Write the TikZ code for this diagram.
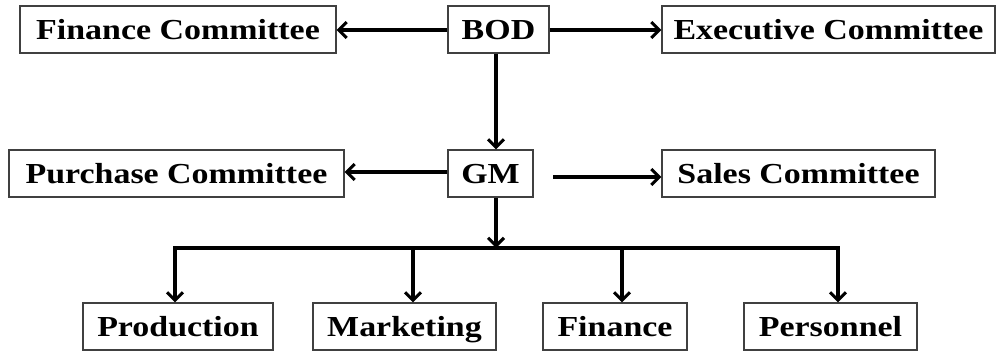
\documentclass[tikz,border=0pt]{standalone}
\usepackage{fontspec}
\newfontfamily\boxfont[FakeStretch=1.17]{Liberation Serif}
\usetikzlibrary{arrows.meta,calc}
\begin{document}
\begin{tikzpicture}[x=1pt,y=-1pt,
  unit/.style={draw=black!75,line width=1.1pt,minimum height=47pt,inner sep=0pt,
    text height=22pt,text depth=2.5pt,
    font=\boxfont\bfseries\fontsize{29}{31}\selectfont,text=black},
  link/.style={line width=3.1pt,-{Straight Barb[length=8pt,width=16pt]}},
  wire/.style={line width=3.1pt,line cap=butt}]
\useasboundingbox (0,0) rectangle (996,351);
% top row
\node[unit,minimum width=316pt] (fin) at (178,29.5) {Finance Committee};
\node[unit,minimum width=101pt] (bod) at (498.5,29.5) {BOD};
\node[unit,minimum width=333pt] (exe) at (828.5,29.5) {Executive Committee};
% middle row
\node[unit,minimum width=335pt] (pur) at (176.5,173.5) {Purchase Committee};
\node[unit,minimum width=85pt] (gm) at (490.5,173.5) {GM};
\node[unit,minimum width=273pt] (sal) at (798.5,173.5) {Sales Committee};
% departments
\node[unit,minimum width=190pt] (pro) at (178,326.5) {Production};
\node[unit,minimum width=183pt] (mar) at (404.5,326.5) {Marketing};
\node[unit,minimum width=144pt] (fnc) at (615,326.5) {Finance};
\node[unit,minimum width=173pt] (per) at (830.5,326.5) {Personnel};
% bus and trunk points
\coordinate (trunk) at (496,248);
\coordinate (b1) at (175,248);
\coordinate (b2) at (413,248);
\coordinate (b3) at (622,248);
\coordinate (b4) at (838,248);
\coordinate (gmout) at (553,177);
% connectors
\draw[link] (bod.west |- 0,30) -- (fin.east |- 0,30);
\draw[link] (bod.east |- 0,30) -- (exe.west |- 0,30);
\draw[link] (bod.south -| trunk) -- (gm.north -| trunk);
\draw[link] (gm.west |- 0,172) -- (pur.east |- 0,172);
\draw[link] (gmout) -- (sal.west |- gmout);
\draw[link] (gm.south -| trunk) -- (trunk);
\draw[wire] ([xshift=-1.55pt]b1) -- ([xshift=1.55pt]b4);
\draw[link] ([yshift=-1.55pt]b1) -- (pro.north -| b1);
\draw[link] (b2) -- (mar.north -| b2);
\draw[link] (b3) -- (fnc.north -| b3);
\draw[link] ([yshift=-1.55pt]b4) -- (per.north -| b4);
\end{tikzpicture}
\end{document}
